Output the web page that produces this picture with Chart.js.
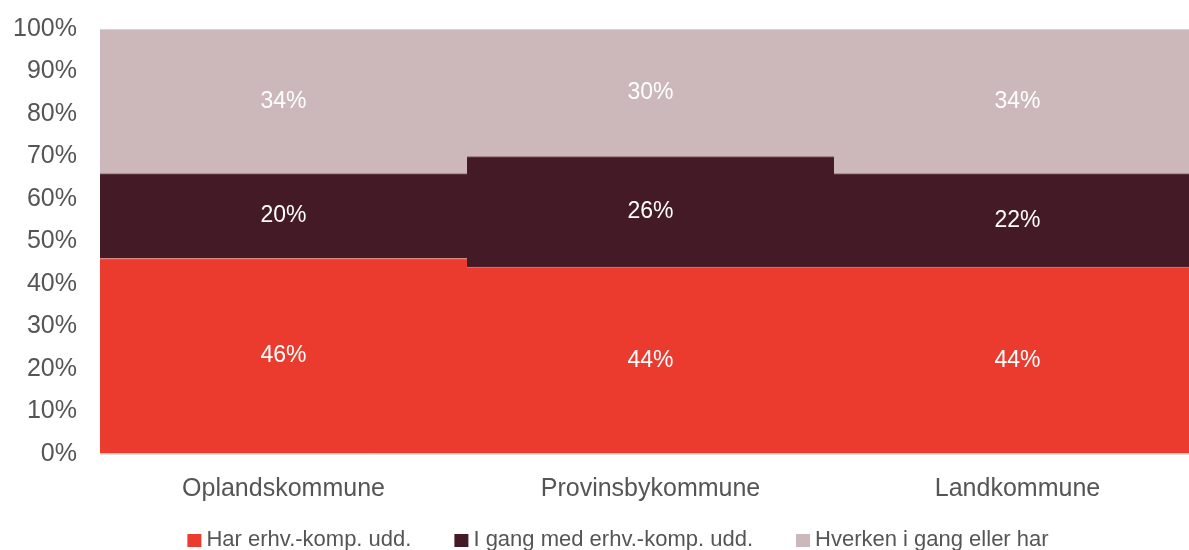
<!DOCTYPE html>
<html>
<head>
<meta charset="utf-8">
<script src="https://cdn.jsdelivr.net/npm/chart.js@4"></script>
<style>
  html, body { margin: 0; padding: 0; background: #fff; overflow: hidden; }
  #wrap { width: 1201px; height: 550px; }
</style>
</head>
<body>
<div id="wrap"><canvas id="andele"></canvas></div>
<script>
var kategorier = ['Oplandskommune', 'Provinsbykommune', 'Landkommune'];
var harUdd = [46, 44, 44];
var iGang = [20, 26, 22];
var hverken = [34, 30, 34];
var yTicks = [0, 10, 20, 30, 40, 50, 60, 70, 80, 90, 100];

var skrift = "'Liberation Sans', Arial, sans-serif";

// white % labels in the middle of every segment
var etiketter = {
  id: 'etiketter',
  afterDatasetsDraw: function(chart) {
    var ctx = chart.ctx;
    ctx.save();
    ctx.fillStyle = '#ffffff';
    ctx.font = '23px ' + skrift;
    ctx.textAlign = 'center';
    ctx.textBaseline = 'middle';
    chart.data.datasets.forEach(function(ds, i) {
      chart.getDatasetMeta(i).data.forEach(function(bar, j) {
        var midt = (bar.y + bar.base) / 2;
        ctx.fillText(ds.data[j] + '%', bar.x, midt);
      });
    });
    ctx.restore();
  }
};

// legend drawn by hand so it can sit close to the bottom edge
var forklaring = {
  id: 'forklaring',
  afterDraw: function(chart) {
    var ctx = chart.ctx;
    var boks = 14, luft = 5, mellem = 43;
    ctx.save();
    ctx.font = '22px ' + skrift;
    ctx.textBaseline = 'middle';
    var sets = chart.data.datasets;
    var total = 0;
    sets.forEach(function(ds, i) {
      total += boks + luft + ctx.measureText(ds.label).width;
      if (i < sets.length - 1) total += mellem;
    });
    var x = 618 - total / 2;
    var y = 540;
    sets.forEach(function(ds) {
      ctx.fillStyle = ds.backgroundColor;
      ctx.fillRect(x, y - 6, boks, 13);
      x += boks + luft;
      ctx.fillStyle = '#555555';
      ctx.fillText(ds.label, x, y);
      x += ctx.measureText(ds.label).width + mellem;
    });
    ctx.restore();
  }
};

var ctx = document.getElementById('andele').getContext('2d');
var chart = new Chart(ctx, {
  type: 'bar',
  data: {
    labels: kategorier,
    datasets: [
      { label: 'Har erhv.-komp. udd.', data: harUdd, backgroundColor: '#EB3B2E', borderColor: '#F07068' },
      { label: 'I gang med erhv.-komp. udd.', data: iGang, backgroundColor: '#431A25', borderColor: '#7A4F58' },
      { label: 'Hverken i gang eller har', data: hverken, backgroundColor: '#CCB8BB', borderColor: '#DADADA' }
    ]
  },
  options: {
    responsive: true,
    maintainAspectRatio: false,
    animation: false,
    layout: { padding: { top: 29, right: 0, left: 0, bottom: 34 } },
    datasets: {
      bar: {
        barPercentage: 1,
        categoryPercentage: 1,
        borderWidth: { top: 1, right: 0, bottom: 0, left: 0 },
        borderSkipped: false
      }
    },
    scales: {
      x: {
        stacked: true,
        grid: { display: false },
        border: { display: true, color: '#dddddd' },
        ticks: { color: '#555555', font: { family: skrift, size: 25 }, padding: 12 }
      },
      y: {
        stacked: true,
        min: 0,
        max: 100,
        afterBuildTicks: function(scale) {
          scale.ticks = yTicks.map(function(v) { return { value: v }; });
        },
        afterFit: function(scale) {
          scale.width = 100;
          scale.paddingTop = 0;
          scale.paddingBottom = 0;
        },
        grid: { color: '#dddddd', drawTicks: false },
        border: { display: false },
        ticks: {
          color: '#555555',
          font: { family: skrift, size: 25 },
          padding: 23,
          callback: function(v) { return v + '%'; }
        }
      }
    },
    plugins: {
      legend: { display: false },
      tooltip: { enabled: false }
    }
  },
  plugins: [etiketter, forklaring]
});
</script>
</body>
</html>
